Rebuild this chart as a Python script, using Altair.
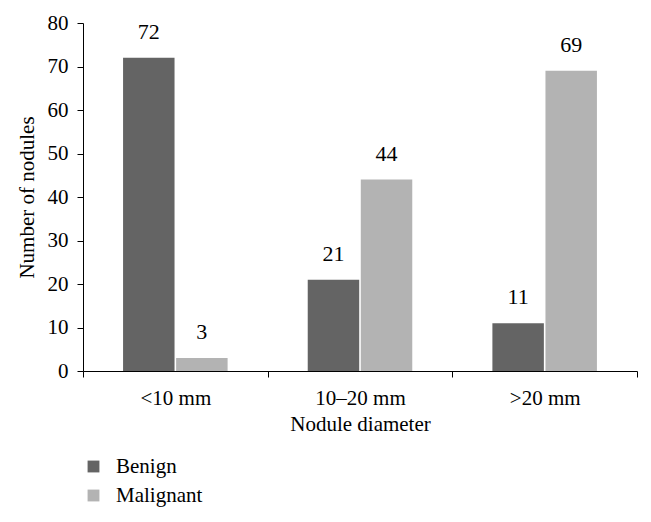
import altair as alt
import pandas as pd

categories = ["<10 mm", "10–20 mm", ">20 mm"]
series = ["Benign", "Malignant"]
benign = [72, 21, 11]
malignant = [3, 44, 69]
colors = ["#646464", "#b3b3b3"]

rows = []
for c, b, m in zip(categories, benign, malignant):
    rows.append({"cat": c, "type": "Benign", "n": b})
    rows.append({"cat": c, "type": "Malignant", "n": m})
df = pd.DataFrame(rows)

FONT = "Liberation Serif"

x = alt.X("cat:N", sort=categories, title="Nodule diameter",
          scale=alt.Scale(paddingInner=0, paddingOuter=0),
          axis=alt.Axis(labelAngle=0, tickBand="extent", labelFontSize=21,
                        titleFontSize=21, labelPadding=10, titlePadding=5,
                        tickSize=6, domainColor="black", tickColor="black",
                        labelColor="black", titleColor="black", titleFontWeight="normal"))
xo = alt.XOffset("type:N", sort=series,
                 scale=alt.Scale(paddingInner=0.03, paddingOuter=0.755))
y = alt.Y("n:Q", title="Number of nodules",
          scale=alt.Scale(domain=[0, 80]),
          axis=alt.Axis(values=list(range(0, 81, 10)), grid=False, labelFontSize=21,
                        titleFontSize=21, tickSize=6, labelPadding=9, titlePadding=10,
                        domainColor="black", tickColor="black", labelColor="black",
                        titleColor="black", titleFontWeight="normal"))

bars = alt.Chart(df).mark_bar().encode(
    x=x, xOffset=xo, y=y,
    color=alt.Color("type:N", sort=series,
                    scale=alt.Scale(domain=series, range=colors),
                    legend=alt.Legend(title=None, orient="none", legendX=0, legendY=433,
                                      symbolType="square", symbolSize=140,
                                      symbolStrokeWidth=0, labelFontSize=21,
                                      labelOffset=12, rowPadding=7, padding=0,
                                      labelColor="black")),
)

labels = alt.Chart(df).mark_text(baseline="bottom", dy=-14, fontSize=22,
                                 font=FONT, color="black").encode(
    x=alt.X("cat:N", sort=categories), xOffset=xo, y="n:Q", text="n:Q")

chart = alt.layer(bars, labels).properties(
    width=554, height=348,
    autosize=alt.AutoSizeParams(type="none"),
    padding={"left": 75, "top": 15, "right": 6, "bottom": 143},
).configure(font=FONT).configure_view(stroke=None).configure_axis(
    labelFont=FONT, titleFont=FONT).configure_legend(labelFont=FONT)

chart.save("out.html", embed_options={"renderer": "svg", "actions": False})
